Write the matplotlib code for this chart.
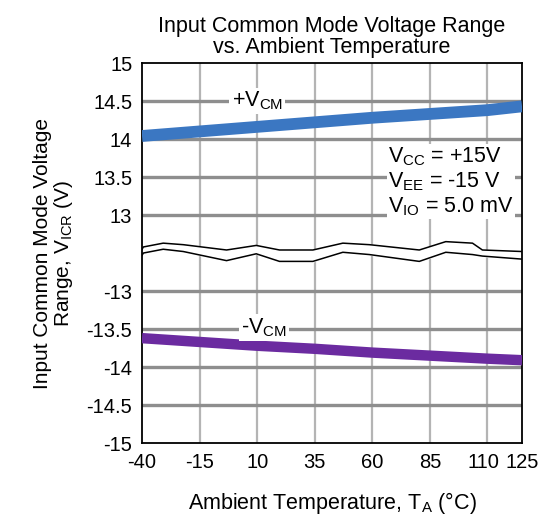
import matplotlib
matplotlib.use("Agg")
import matplotlib.pyplot as plt  # noqa: E402
import matplotlib.transforms as mtransforms  # noqa: E402
import numpy as np  # noqa: E402

plt.rcParams["font.family"] = ["Liberation Sans", "DejaVu Sans"]
plt.rcParams["mathtext.fontset"] = "custom"
plt.rcParams["mathtext.rm"] = "Liberation Sans"
plt.rcParams["mathtext.it"] = "Liberation Sans"
plt.rcParams["axes.unicode_minus"] = False

# data
temp = [-40, -15, 10, 35, 60, 85, 110, 125]
vcm_pos = [14.04, 14.10, 14.16, 14.22, 14.28, 14.33, 14.38, 14.43]
vcm_neg = [-13.62, -13.67, -13.72, -13.76, -13.81, -13.85, -13.89, -13.91]

xticks = [-40, -15, 10, 35, 60, 85, 110, 125]
yticks_pos = [13, 13.5, 14, 14.5, 15]
yticks_neg = [-15, -14.5, -14, -13.5, -13]

# axis-break squiggle (shape of the hand-drawn break)
brk_x = [-40, -39.4, -30.8, -22.1, -3.3, 9.6, 19.7, 34.2, 47.2, 58.7, 80.4, 91.9, 103.5, 107.8, 125]
brk_top = [12.55, 12.58, 12.63, 12.61, 12.54, 12.60, 12.54, 12.54, 12.63, 12.61, 12.54, 12.65, 12.63, 12.54, 12.52]
brk_bot = [12.47, 12.50, 12.55, 12.52, 12.40, 12.49, 12.39, 12.39, 12.51, 12.48, 12.39, 12.51, 12.48, 12.46, 12.42]

OFFSET = 25.0  # negative branch is shifted up so both halves share one axis


def fold(v):
    v = np.asarray(v, dtype=float)
    return np.where(v < 0, v + OFFSET, v)


fig = plt.figure(figsize=(5.5, 5.2), dpi=100)
ax = fig.add_axes([0.2582, 0.148, 0.6909, 0.7308])

ax.set_xlim(-40, 125)
ax.set_ylim(10, 15)

yt = list(fold(yticks_neg)) + list(fold(yticks_pos))
ylab = [f"{v:g}" for v in yticks_neg + yticks_pos]
ax.set_yticks(yt)
ax.set_yticklabels(ylab)
ax.set_xticks(xticks)
ax.set_xticklabels([str(t) for t in xticks])
ax.tick_params(length=0, labelsize=14.5, pad=7)

# the reference squeezes "110" a little left of its tick so it clears "125"
lbl110 = ax.get_xticklabels()[xticks.index(110)]
lbl110.set_transform(lbl110.get_transform()
                     + mtransforms.ScaledTranslation(-4 / 100, 0, fig.dpi_scale_trans))

for x in xticks[1:-1]:
    ax.axvline(x, color="#b4b4b4", lw=1.6, zorder=1)
for y in yt[1:-1]:
    ax.axhline(y, color="#8e8e8e", lw=2.4, zorder=1)

ax.fill_between(brk_x, brk_bot, brk_top, color="white", zorder=2)
ax.plot(brk_x, brk_top, color="black", lw=1.1, zorder=3)
ax.plot(brk_x, brk_bot, color="black", lw=1.1, zorder=3)

ax.plot(temp, fold(vcm_pos), color="#3b77c2", lw=8.5, solid_capstyle="butt", zorder=4)
ax.plot(temp, fold(vcm_neg), color="#6b2ba0", lw=7.5, solid_capstyle="butt", zorder=4)

box = dict(facecolor="white", edgecolor="none", pad=1.5)
ax.text(10, 14.5, "+V$_{\\mathrm{CM}}$", fontsize=15.5, ha="center", va="center",
        bbox=box, zorder=5)
ax.text(13, fold(-13.48), "-V$_{\\mathrm{CM}}$", fontsize=15.5, ha="center", va="center",
        bbox=box, zorder=5)
ax.text(67, 13.44, "V$_{\\mathrm{CC}}$ = +15V\nV$_{\\mathrm{EE}}$ = -15 V\nV$_{\\mathrm{IO}}$ = 5.0 mV",
        fontsize=15.5, ha="left", va="center", linespacing=1.15,
        bbox=dict(facecolor="white", edgecolor="none", pad=1), zorder=5)

for s in ax.spines.values():
    s.set_linewidth(1.3)

ax.set_title("Input Common Mode Voltage Range\nvs. Ambient Temperature",
             fontsize=15.5, pad=7, linespacing=1.05)
ax.set_xlabel("Ambient Temperature, T$_{\\mathrm{A}}$ (°C)", fontsize=15.5, labelpad=13)
ax.set_ylabel("Input Common Mode Voltage\nRange, V$_{\\mathrm{ICR}}$ (V)", fontsize=15,
              labelpad=8, linespacing=1.05)

fig.savefig("out.png", dpi=100)
